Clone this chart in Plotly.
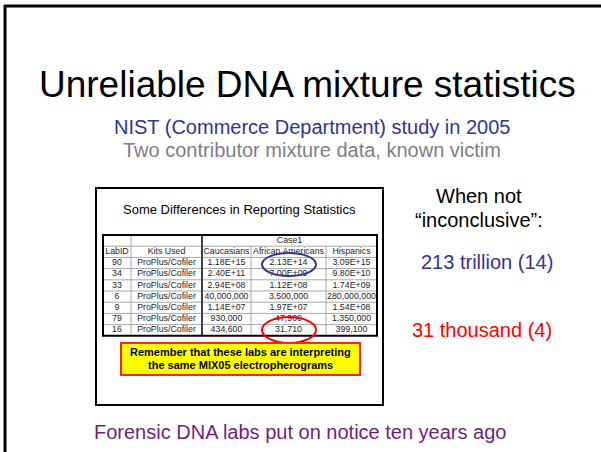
import plotly.graph_objects as go

# ---------------- data ----------------
slide_title = "Unreliable DNA mixture statistics"
subtitle_1 = "NIST (Commerce Department) study in 2005"
subtitle_2 = "Two contributor mixture data, known victim"
table_title = "Some Differences in Reporting Statistics"
case_label = "Case1"
column_labels = ["LabID", "Kits Used", "Caucasians", "African Americans", "Hispanics"]
lab_ids = ["90", "34", "33", "6", "9", "79", "16"]
kits_used = ["ProPlus/Cofiler"] * 7
caucasians = ["1.18E+15", "2.40E+11", "2.94E+08", "40,000,000", "1.14E+07", "930,000", "434,600"]
african_americans = ["2.13E+14", "7.00E+09", "1.12E+08", "3,500,000", "1.97E+07", "47,900", "31,710"]
hispanics = ["3.09E+15", "9.80E+10", "1.74E+09", "280,000,000", "1.54E+08", "1,350,000", "399,100"]
note_lines = ["Remember that these labs are interpreting", "the same MIX05 electropherograms"]
side_lines = ["When not", "\u201cinconclusive\u201d:"]
high_value = "213 trillion (14)"
low_value = "31 thousand (4)"
footer = "Forensic DNA labs put on notice ten years ago"

# ---------------- layout constants ----------------
W, H = 601, 452
FONT = "Arial, 'Liberation Sans', sans-serif"
col_edges = [103, 131, 202, 251, 326, 377]
row_top = 235
row_h = 11.2
n_rows = 2 + len(lab_ids)
row_bottom = row_top + n_rows * row_h

def col_center(i):
    return (col_edges[i] + col_edges[i + 1]) / 2

def row_center(r):
    return row_top + (r + 0.5) * row_h

fig = go.Figure()

columns = [lab_ids, kits_used, caucasians, african_americans, hispanics]
xs, ys, ts = [], [], []
xs.append((col_edges[2] + col_edges[5]) / 2); ys.append(row_center(0)); ts.append(case_label)
for ci, lab in enumerate(column_labels):
    xs.append(col_center(ci)); ys.append(row_center(1)); ts.append(lab)
for ci, col in enumerate(columns):
    for ri, v in enumerate(col):
        xs.append(col_center(ci)); ys.append(row_center(ri + 2)); ts.append(v)

fig.add_trace(go.Scatter(
    x=xs, y=ys, text=ts, mode="text",
    textposition="middle center",
    textfont=dict(family=FONT, size=8.8, color="#1e1e1e"),
    hoverinfo="skip", showlegend=False,
))

shapes = []
shapes.append(dict(type="line", x0=5, x1=5, y0=5, y1=H + 20, line=dict(color="black", width=3)))
shapes.append(dict(type="line", x0=4, x1=W + 20, y0=6, y1=6, line=dict(color="black", width=3)))
shapes.append(dict(type="rect", x0=96, x1=383, y0=188, y1=405, line=dict(color="black", width=2),
                   fillcolor="white", layer="below"))
for r in range(1, n_rows):
    y = row_top + r * row_h
    shapes.append(dict(type="line", x0=col_edges[0], x1=col_edges[-1], y0=y, y1=y,
                       line=dict(color="#a8a8a8", width=1)))
shapes.append(dict(type="line", x0=col_edges[1], x1=col_edges[1], y0=row_top, y1=row_bottom,
                   line=dict(color="#a8a8a8", width=1)))
for ci in (3, 4):
    shapes.append(dict(type="line", x0=col_edges[ci], x1=col_edges[ci], y0=row_top + row_h, y1=row_bottom,
                       line=dict(color="#a8a8a8", width=1)))
shapes.append(dict(type="line", x0=col_edges[2], x1=col_edges[2], y0=row_top, y1=row_bottom,
                   line=dict(color="#404040", width=2)))
shapes.append(dict(type="rect", x0=col_edges[0], x1=col_edges[-1], y0=row_top, y1=row_bottom,
                   line=dict(color="black", width=2)))
shapes.append(dict(type="circle", x0=262, x1=316, y0=253, y1=276, line=dict(color="#333399", width=2)))
shapes.append(dict(type="circle", x0=262, x1=316, y0=317, y1=343, line=dict(color="#ff0000", width=2)))
shapes.append(dict(type="rect", x0=121, x1=360, y0=343, y1=375, line=dict(color="#ff2020", width=2),
                   fillcolor="#ffff00"))

ann = []
def add_text(x, y, text, size, color, bold=False):
    ann.append(dict(x=x, y=y, xref="x", yref="y", text=("<b>%s</b>" % text) if bold else text,
                    showarrow=False, xanchor="center", yanchor="middle",
                    font=dict(family=FONT, size=size, color=color)))

add_text(307, 84, slide_title, 37, "black")
add_text(312, 127, subtitle_1, 20, "#333399")
add_text(312, 150, subtitle_2, 20, "#808080")
add_text(239, 209, table_title, 13, "black")
add_text(240.5, 352, note_lines[0], 11, "black", bold=True)
add_text(240.5, 364.5, note_lines[1], 11, "black", bold=True)
add_text(479, 196, side_lines[0], 20, "black")
add_text(479, 220, side_lines[1], 20, "black")
add_text(487, 262, high_value, 20, "#333399")
add_text(482, 330, low_value, 20, "#ff0000")
add_text(300, 432, footer, 20, "#6f1f7f")

fig.update_layout(
    width=W, height=H,
    margin=dict(l=0, r=0, t=0, b=0),
    paper_bgcolor="white", plot_bgcolor="white",
    xaxis=dict(range=[0, W], visible=False, fixedrange=True),
    yaxis=dict(range=[H, 0], visible=False, fixedrange=True),
    shapes=shapes, annotations=ann, showlegend=False,
)

fig.write_html("out.html", config={"displayModeBar": False, "staticPlot": True},
               post_script="document.body.style.margin='0';document.body.style.overflow='hidden';")
